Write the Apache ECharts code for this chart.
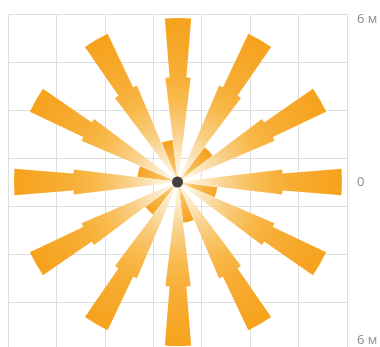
<!DOCTYPE html>
<html><head><meta charset="utf-8">
<script src="https://cdn.jsdelivr.net/npm/echarts@6/dist/echarts.min.js"></script>
<style>html,body{margin:0;padding:0;background:#fff}#c{width:380px;height:347px}</style>
</head><body><div id="c"></div>
<script>
// ---- data ----
const arrowAngles  = [0, 30, 60, 90, 120, 150, 180, 210, 240, 270, 300, 330];
const arrowLengths = [6, 6, 6, 6, 6, 6, 6, 6, 6, 6, 6, 6];
const headLengths  = [3.84, 3.84, 3.84, 3.84, 3.84, 3.84, 3.84, 3.84, 3.84, 3.84, 3.84, 3.84];
const tailAngles   = [345, 45, 105, 165, 225, 285];
const tailLengths  = [1.55, 1.6, 1.45, 1.5, 1.5, 1.5];
const scaleTicks   = [-6, 0, 6];
const centerPoint  = [[3.5, 3.5]];

const STEP = 15;
const angleCats = Array.from({length: 360 / STEP}, (_, i) => String(i * STEP));
function toSeriesData(angles, values) {
  const d = angleCats.map(() => '-');
  angles.forEach((a, i) => { d[Math.round(a / STEP)] = values[i]; });
  return d;
}

const CX = 178, CY = 182, R = 164, RMAX = 6;
const arrowGrad = {type: 'radial', x: CX, y: CY, r: R, global: true, colorStops: [
  {offset: 0, color: '#fffbf2'}, {offset: 0.1, color: '#fdf0d6'}, {offset: 0.3, color: '#f9d08a'},
  {offset: 0.5, color: '#f8ba4c'}, {offset: 0.65, color: '#f7ae36'}, {offset: 1, color: '#f6a21c'}]};
const tailGrad = {type: 'radial', x: CX, y: CY, r: 42, global: true, colorStops: [
  {offset: 0, color: '#fff6e2'}, {offset: 0.35, color: '#f8c262'}, {offset: 1, color: '#f5a21e'}]};

function polarComp() { return {center: [CX, CY], radius: R}; }
function angleAx(i) { return {polarIndex: i, type: 'category', data: angleCats, startAngle: 90 + STEP / 2, clockwise: true, show: false, boundaryGap: true}; }
function radiusAx(i) { return {polarIndex: i, type: 'value', min: 0, max: RMAX, show: false}; }

const chart = echarts.init(document.getElementById('c'), null, {renderer: 'canvas'});
chart.setOption({
  animation: false,
  backgroundColor: '#fff',
  grid: {left: 8, top: 14, width: 339, height: 336, outerBoundsMode: 'none', containLabel: false},
  xAxis: {type: 'value', min: 0, max: 7, interval: 1, axisLine: {show: false}, axisTick: {show: false},
    axisLabel: {show: false}, splitLine: {show: true, lineStyle: {color: '#dedede', width: 1}}},
  yAxis: [
    {type: 'value', min: 0, max: 7, interval: 1, axisLine: {show: false}, axisTick: {show: false},
      axisLabel: {show: false}, splitLine: {show: true, lineStyle: {color: '#dedede', width: 1}}},
    {type: 'value', position: 'right', min: scaleTicks[0], max: scaleTicks[2], interval: 6,
      axisLine: {show: false}, axisTick: {show: false}, splitLine: {show: false},
      axisLabel: {margin: 10, color: '#8c8c8c', fontSize: 13, fontFamily: 'Open Sans', lineHeight: 10,
        formatter: v => v === 0 ? '0' : (v > 0 ? '\n' + Math.abs(v) + ' м' : Math.abs(v) + ' м\n\n')}}
  ],
  polar: [polarComp(), polarComp(), polarComp()],
  angleAxis: [angleAx(0), angleAx(1), angleAx(2)],
  radiusAxis: [radiusAx(0), radiusAx(1), radiusAx(2)],
  series: [
    {type: 'bar', coordinateSystem: 'polar', polarIndex: 0, barWidth: 15, z: 2,
      data: toSeriesData(tailAngles, tailLengths), itemStyle: {color: tailGrad}},
    {type: 'bar', coordinateSystem: 'polar', polarIndex: 1, barWidth: 9.2, z: 3,
      data: toSeriesData(arrowAngles, arrowLengths), itemStyle: {color: arrowGrad}},
    {type: 'bar', coordinateSystem: 'polar', polarIndex: 2, barWidth: 13.8, z: 4,
      data: toSeriesData(arrowAngles, headLengths), itemStyle: {color: arrowGrad}},
    {type: 'scatter', xAxisIndex: 0, yAxisIndex: 0, data: centerPoint, symbolSize: 11, z: 10,
      itemStyle: {color: '#111'}}
  ]
});
</script></body></html>
